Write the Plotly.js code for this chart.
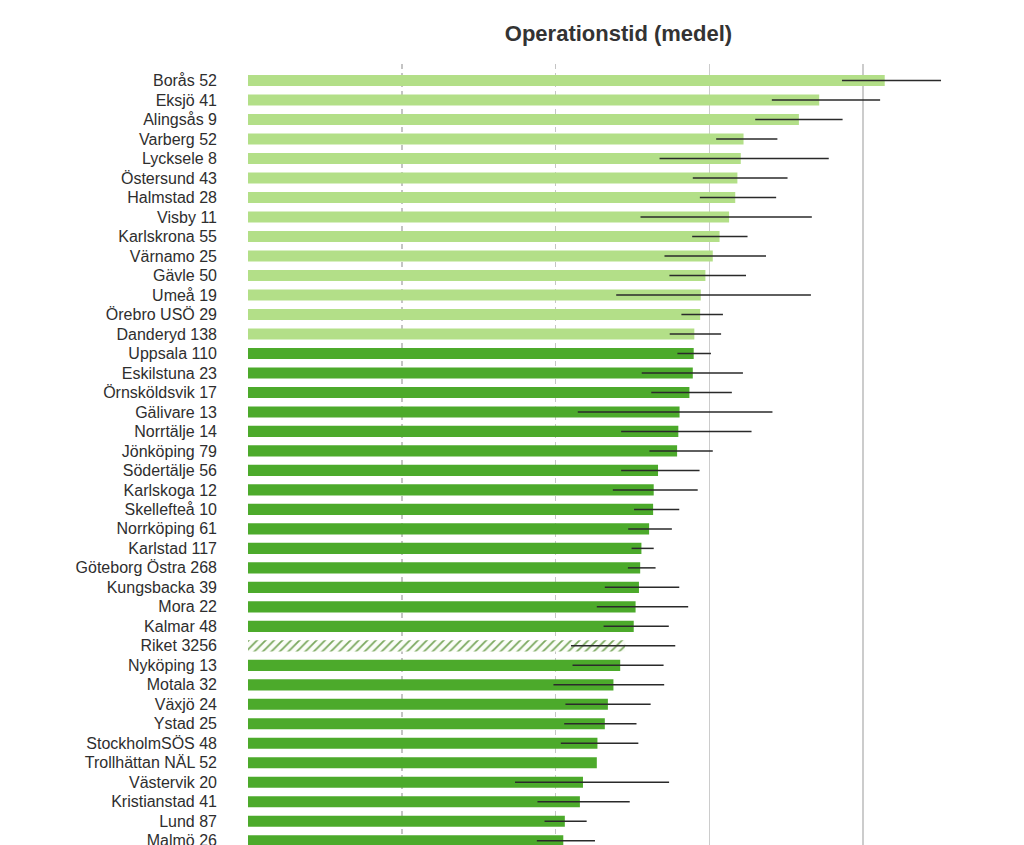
<!DOCTYPE html>
<html>
<head>
<meta charset="utf-8">
<script src="https://cdn.plot.ly/plotly-3.0.1.min.js"></script>
<style>
  html, body { margin: 0; padding: 0; overflow: hidden; background: #fff; }
  #chart { width: 1024px; height: 900px; }
</style>
</head>
<body>
<div id="chart"></div>
<script>
// ---- data ----
const hospitals = ['Borås','Eksjö','Alingsås','Varberg','Lycksele','Östersund','Halmstad','Visby','Karlskrona','Värnamo',
  'Gävle','Umeå','Örebro USÖ','Danderyd','Uppsala','Eskilstuna','Örnsköldsvik','Gälivare','Norrtälje','Jönköping',
  'Södertälje','Karlskoga','Skellefteå','Norrköping','Karlstad','Göteborg Östra','Kungsbacka','Mora','Kalmar','Riket',
  'Nyköping','Motala','Växjö','Ystad','StockholmSÖS','Trollhättan NÄL','Västervik','Kristianstad','Lund','Malmö'];
const counts = [52,41,9,52,8,43,28,11,55,25,
  50,19,29,138,110,23,17,13,14,79,
  56,12,10,61,117,268,39,22,48,3256,
  13,32,24,25,48,52,20,41,87,26];
const means = [207.0,185.7,179.1,161.1,160.2,159.1,158.4,156.4,153.3,151.1,
  148.7,147.2,147.0,145.1,144.9,144.6,143.5,140.3,139.9,139.5,
  133.3,131.9,131.7,130.4,127.9,127.5,127.1,126.0,125.4,122.6,
  121.0,118.8,117.0,116.0,113.6,113.4,108.9,107.9,103.0,102.5];
const ciLow = [193.1,170.3,164.9,152.2,133.8,144.6,146.9,127.6,144.4,135.4,
  137.0,119.7,140.9,137.1,139.6,128.0,131.1,107.2,121.3,130.5,
  121.3,118.6,125.5,123.6,124.7,123.5,116.0,113.4,115.6,105.0,
  105.5,99.3,103.2,102.8,101.7,null,86.8,94.1,96.4,93.9];
const ciHigh = [225.3,205.5,193.3,172.1,188.8,175.4,171.7,183.3,162.4,168.4,
  161.9,183.0,154.4,153.8,150.5,160.9,157.3,170.5,163.7,151.1,
  146.8,146.2,140.2,137.8,131.9,132.5,140.2,143.1,136.8,138.9,
  135.1,135.3,130.9,126.3,126.9,null,136.9,124.1,110.1,112.8];
const groups = ['hög','hög','hög','hög','hög','hög','hög','hög','hög','hög',
  'hög','hög','hög','hög','låg','låg','låg','låg','låg','låg',
  'låg','låg','låg','låg','låg','låg','låg','låg','låg','riket',
  'låg','låg','låg','låg','låg','låg','låg','låg','låg','låg'];
const majorGrid = [150, 200];
const minorGrid = [50, 100];

// ---- styling ----
const groupColor = { 'hög': '#b3df88', 'låg': '#4caa2b', 'riket': '#ffffff' };
const labels = hospitals.map((h, i) => h + ' ' + counts[i]);
const errPlus = means.map((m, i) => ciHigh[i] == null ? 0 : ciHigh[i] - m);
const errMinus = means.map((m, i) => ciLow[i] == null ? 0 : m - ciLow[i]);
const isRiket = groups.map(g => g === 'riket');
const pick = (arr, keep) => arr.map((v, i) => keep(i) ? v : null);
const notR = i => !isRiket[i];
const onlyR = i => isRiket[i];

const errStyle = { color: '#2a2a2a', thickness: 1.5, width: 0 };

const hospTrace = {
  type: 'bar',
  orientation: 'h',
  y: labels,
  x: pick(means, notR),
  marker: { color: groups.map(g => groupColor[g]), line: { width: 0 } },
  error_x: Object.assign({ type: 'data', symmetric: false,
    array: pick(errPlus, notR), arrayminus: pick(errMinus, notR) }, errStyle),
  hoverinfo: 'x+y'
};

const riketTrace = {
  type: 'bar',
  orientation: 'h',
  y: labels,
  x: pick(means, onlyR),
  marker: {
    color: '#7aa85e',
    line: { width: 0 },
    pattern: { shape: '/', fillmode: 'replace', fgcolor: '#7aa85e', bgcolor: '#fbfdf8', size: 6, solidity: 0.3 }
  },
  error_x: Object.assign({ type: 'data', symmetric: false,
    array: pick(errPlus, onlyR), arrayminus: pick(errMinus, onlyR) }, errStyle),
  hoverinfo: 'x+y'
};

const layout = {
  width: 1024,
  height: 900,
  margin: { l: 248, r: 7, t: 64, b: 30 },
  paper_bgcolor: '#ffffff',
  plot_bgcolor: '#ffffff',
  font: { family: 'Liberation Sans, Arial, sans-serif', size: 16, color: '#2e2e2e' },
  title: {
    text: '<b>Operationstid (medel)</b>',
    font: { family: 'Liberation Sans, Arial, sans-serif', size: 22, color: '#333333' },
    xref: 'container', x: 0.604, xanchor: 'center',
    yref: 'container', y: 1 - 33 / 900, yanchor: 'middle'
  },
  barmode: 'overlay',
  bargap: 0.43,
  showlegend: false,
  xaxis: {
    range: [0, 250],
    tickmode: 'array',
    tickvals: majorGrid,
    showticklabels: false,
    ticks: '',
    showgrid: true,
    gridcolor: '#cccccc',
    gridwidth: 1.5,
    minor: {
      tickmode: 'array',
      tickvals: minorGrid,
      showgrid: true,
      gridcolor: '#c4c4c4',
      gridwidth: 1.5,
      griddash: '5px,4px',
      ticks: ''
    },
    zeroline: false,
    showline: false,
    fixedrange: true
  },
  yaxis: {
    type: 'category',
    categoryorder: 'array',
    categoryarray: labels,
    range: [40.5, -0.85],
    ticks: '',
    ticklabelstandoff: 30,
    showgrid: false,
    zeroline: false,
    showline: false,
    tickfont: { size: 16, color: '#2e2e2e' },
    fixedrange: true
  }
};

Plotly.newPlot('chart', [hospTrace, riketTrace], layout, { displayModeBar: false, staticPlot: true });
</script>
</body>
</html>
